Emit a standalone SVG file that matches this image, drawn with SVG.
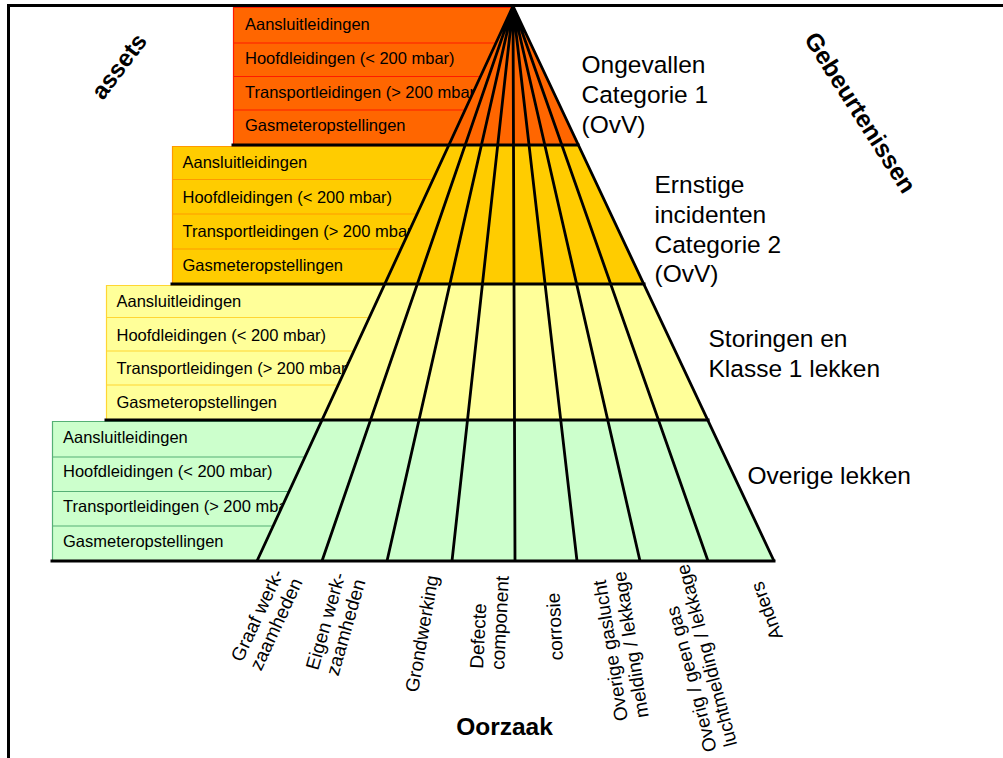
<svg xmlns="http://www.w3.org/2000/svg" width="1003" height="758" viewBox="0 0 1003 758">
<style>
.t{font-family:"Liberation Sans",Arial,sans-serif;font-size:16.5px;fill:#000}
.lvl{font-family:"Liberation Sans",Arial,sans-serif;font-size:24.5px;fill:#000}
.cause{font-family:"Liberation Sans",Arial,sans-serif;font-size:19px;fill:#000}
.bold{font-family:"Liberation Sans",Arial,sans-serif;font-size:24.5px;font-weight:bold;fill:#000}
.blk{stroke:#000;stroke-width:3;fill:none;stroke-linecap:square}
.ray{stroke:#000;stroke-width:2.8;fill:none}
.f1{fill:#FF6600}.f2{fill:#FFCC00}.f3{fill:#FFFF99}.f4{fill:#CCFFCC}
.s1{stroke:#FF1A00;stroke-width:1.2;fill:none}
.s2{stroke:#FF9900;stroke-width:1.2;fill:none}
.s3{stroke:#FFD633;stroke-width:1.2;fill:none}
.s4{stroke:#55B075;stroke-width:1.2;fill:none}
</style>
<rect width="1003" height="758" fill="#fff"/>
<g id="frame">
<path class="blk" d="M8.5,758 V5.5 H1003"/>
</g>
<g id="tier1-assets">
<rect class="f1" x="233" y="7" width="282" height="138"/>
<path class="s1" d="M233.5,145 V7.5 H515 M233,43 H515 M233,76.5 H515 M233,110 H515"/>
<text class="t" x="245" y="30">Aansluitleidingen</text>
<text class="t" x="245" y="64">Hoofdleidingen (&lt; 200 mbar)</text>
<text class="t" x="245" y="97.5">Transportleidingen (&gt; 200 mbar)</text>
<text class="t" x="245" y="131">Gasmeteropstellingen</text>
</g>
<g id="tier2-assets">
<rect class="f2" x="172" y="146" width="300" height="138"/>
<path class="s2" d="M172.5,284 V146.5 H472 M172,179.5 H472 M172,214 H472 M172,249 H472"/>
<text class="t" x="182.5" y="168">Aansluitleidingen</text>
<text class="t" x="182.5" y="202.5">Hoofdleidingen (&lt; 200 mbar)</text>
<text class="t" x="182.5" y="237">Transportleidingen (&gt; 200 mbar)</text>
<text class="t" x="182.5" y="271">Gasmeteropstellingen</text>
</g>
<g id="tier3-assets">
<rect class="f3" x="106" y="285" width="300" height="135"/>
<path class="s3" d="M106.5,420 V285.5 H406 M106,317.5 H406 M106,351 H406 M106,385 H406"/>
<text class="t" x="116.5" y="307">Aansluitleidingen</text>
<text class="t" x="116.5" y="340.5">Hoofdleidingen (&lt; 200 mbar)</text>
<text class="t" x="116.5" y="374">Transportleidingen (&gt; 200 mbar)</text>
<text class="t" x="116.5" y="407.5">Gasmeteropstellingen</text>
</g>
<g id="tier4-assets">
<rect class="f4" x="52" y="421" width="300" height="140"/>
<path class="s4" d="M52.5,561 V421.5 H352 M52,457 H352 M52,491.5 H352 M52,526 H352"/>
<text class="t" x="63" y="442.5">Aansluitleidingen</text>
<text class="t" x="63" y="477">Hoofdleidingen (&lt; 200 mbar)</text>
<text class="t" x="63" y="512">Transportleidingen (&gt; 200 mbar)</text>
<text class="t" x="63" y="547">Gasmeteropstellingen</text>
</g>
<g id="pyramid">
<polygon class="f1" points="513,6 448.9,145 578.4,145"/>
<polygon class="f2" points="448.9,145 578.4,145 643.7,284 384.8,284"/>
<polygon class="f3" points="384.8,284 643.7,284 707.7,420 322,420"/>
<polygon class="f4" points="322,420 707.7,420 774,561 257,561"/>
</g>
<g id="connectors">
<path class="blk" d="M233,145 H578 M172,284 H644 M106,420 H708 M52,561 H774"/>
<path class="ray" d="M513,6 L257,561 M513,6 L774,561 M513,6 L322,561 M513,6 L387,561 M513,6 L452,561 M513,6 L515,561 M513,6 L577,561 M513,6 L640,561 M513,6 L708,561"/>
</g>
<g id="levels">
<text class="lvl" x="581.5" y="73"><tspan x="581.5" y="73">Ongevallen</tspan><tspan x="581.5" y="103">Categorie 1</tspan><tspan x="581.5" y="133">(OvV)</tspan></text>
<text class="lvl"><tspan x="654.5" y="193">Ernstige</tspan><tspan x="654.5" y="222.5">incidenten</tspan><tspan x="654.5" y="252.5">Categorie 2</tspan><tspan x="654.5" y="282">(OvV)</tspan></text>
<text class="lvl"><tspan x="708.5" y="347">Storingen en</tspan><tspan x="708.5" y="377">Klasse 1 lekken</tspan></text>
<text class="lvl" x="747.5" y="484">Overige lekken</text>
</g>
<g id="causes">
<text class="cause" transform="translate(242,663) rotate(-65)"><tspan x="0" y="0">Graaf werk-</tspan><tspan x="0" y="21">zaamheden</tspan></text>
<text class="cause" transform="translate(318,671) rotate(-74)"><tspan x="0" y="0">Eigen werk-</tspan><tspan x="0" y="21">zaamheden</tspan></text>
<text class="cause" transform="translate(418,693) rotate(-80)">Grondwerking</text>
<text class="cause" transform="translate(483,669) rotate(-87)"><tspan x="0" y="0">Defecte</tspan><tspan x="0" y="21">component</tspan></text>
<text class="cause" transform="translate(563,660) rotate(-93)">corrosie</text>
<text class="cause" transform="translate(628,720) rotate(-99)"><tspan x="0" y="0">Overige gaslucht</tspan><tspan x="0" y="21">melding / lekkage</tspan></text>
<text class="cause" transform="translate(717,750) rotate(-105)"><tspan x="0" y="0">Overig / geen gas</tspan><tspan x="0" y="21">luchtmelding / lekkage</tspan></text>
<text class="cause" transform="translate(783,637) rotate(-110)">Anders</text>
</g>
<g id="axes">
<text class="bold" style="font-size:24px" transform="translate(103,101) rotate(-53)">assets</text>
<text class="bold" transform="translate(803.5,39) rotate(57.5)">Gebeurtenissen</text>
<text class="bold" x="504.5" y="735" text-anchor="middle">Oorzaak</text>
</g>
</svg>
